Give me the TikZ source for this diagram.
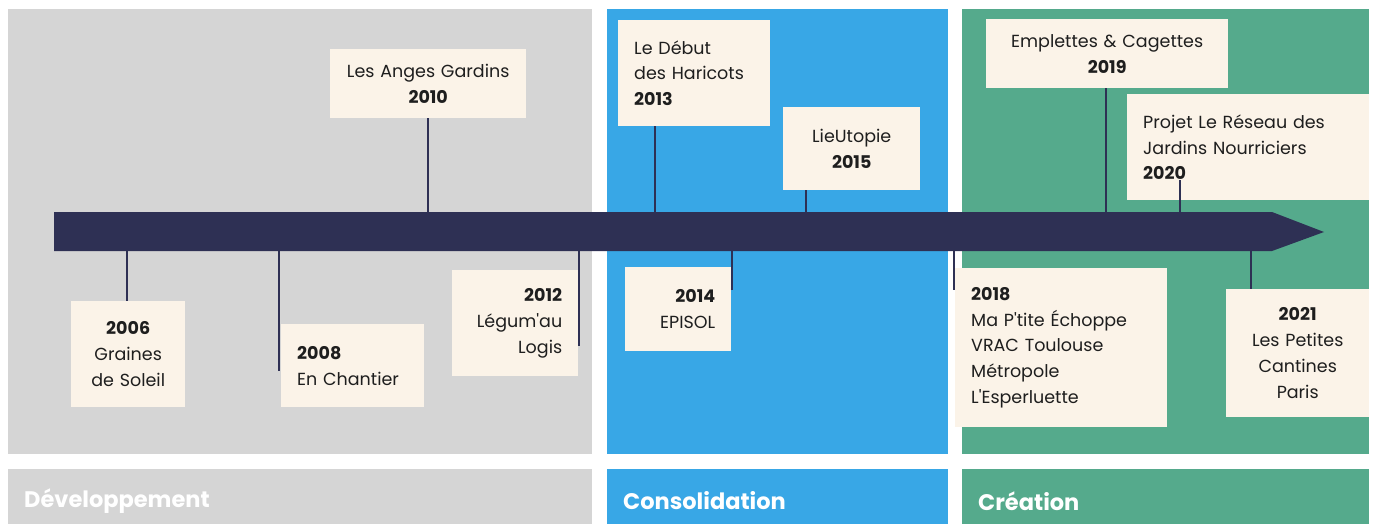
\documentclass[tikz,border=0pt]{standalone}
\usepackage{fontspec}
\setmainfont{Poppins}
\usetikzlibrary{positioning}
\definecolor{darknavy}{HTML}{2E3054}
\definecolor{phasegrey}{HTML}{D5D5D5}
\definecolor{phaseblue}{HTML}{38A7E6}
\definecolor{phasegreen}{HTML}{55AA8C}
\definecolor{cream}{HTML}{FBF3E8}
\definecolor{inktext}{HTML}{1E1E1E}
\newcommand{\yr}[1]{\textbf{#1}}
\newcommand{\apos}{\textquotesingle}

\begin{document}
\begin{tikzpicture}[x=1pt,y=-1pt,
    event/.style={fill=cream, text=inktext, inner xsep=16pt, inner ysep=0pt,
                  anchor=north west, font=\fontsize{17.5}{25.8}\selectfont},
    stem/.style={darknavy, line width=2.6pt},
    phase/.style={anchor=west, inner sep=0pt, text=white, font=\fontsize{22.5}{26}\selectfont\bfseries}]

           \useasboundingbox (0,0) rectangle (1375,524);

           % phases
           \fill [phasegrey] (8,9) rectangle (592,454);
           \fill [phaseblue] (607,9) rectangle (948,454);
           \fill [phasegreen] (962,9) rectangle (1369,454);

           \fill [phasegrey] (8,469) rectangle (592,524);
           \fill [phaseblue] (607,469) rectangle (948,524);
           \fill [phasegreen] (962,469) rectangle (1369,524);

           \node [phase] (dev) at (24,501) {Développement};
           \node [phase] (cons) at (623,501) {Consolidation};
           \node [phase] (crea) at (978,501) {Création};

           % events above the line
           \node [event, text width=164pt, minimum height=69pt, align=center] (e2010) at (330,49)
                 {Les Anges Gardins\\\yr{2010}};
           \node [event, text width=120pt, minimum height=106pt, align=left] (e2013) at (618,20)
                 {Le Début\\des Haricots\\\yr{2013}};
           \node [event, text width=105pt, minimum height=83pt, align=center] (e2015) at (783,107)
                 {LieUtopie\\\yr{2015}};
           \node [event, text width=210pt, minimum height=69pt, align=center] (e2019) at (986,19)
                 {Emplettes \& Cagettes\\\yr{2019}};
           \node [event, text width=210pt, minimum height=106pt, align=left] (e2020) at (1127,94)
                 {Projet Le Réseau des\\Jardins Nourriciers\\\yr{2020}};

           % events below the line
           \node [event, text width=82pt, minimum height=106pt, align=center] (e2006) at (71,301)
                 {\yr{2006}\\Graines\\de Soleil};
           \node [event, text width=111pt, minimum height=83pt, align=left] (e2008) at (281,324)
                 {\yr{2008}\\En Chantier};
           \node [event, text width=94pt, minimum height=106pt, align=right] (e2012) at (452,270)
                 {\yr{2012}\\Légum\apos au\\Logis};
           \node [event, text width=74pt, minimum height=84pt, align=right] (e2014) at (625,267)
                 {\yr{2014}\\EPISOL};
           \node [event, text width=180pt, minimum height=159pt, align=left] (e2018) at (955,268)
                 {\yr{2018}\\Ma P\apos tite Échoppe\\VRAC Toulouse\\Métropole\\L\apos Esperluette};
           \node [event, text width=111pt, minimum height=128pt, align=center] (e2021) at (1226,289)
                 {\yr{2021}\\Les Petites\\Cantines\\Paris};

           % stems
           \coordinate (s2010) at (428,212);
           \coordinate (s2013) at (655,212);
           \coordinate (s2015) at (806,212);
           \coordinate (s2019) at (1106,212);
           \coordinate (s2020) at (1180,212);
           \draw [stem] (s2010) -- (s2010 |- e2010.south);
           \draw [stem] (s2013) -- (s2013 |- e2013.south);
           \draw [stem] (s2015) -- (s2015 |- e2015.south);
           \draw [stem] (s2019) -- (s2019 |- e2019.south);
           \draw [stem] (s2020) -- ++(0,-32);

           \coordinate (s2006) at (127,251);
           \coordinate (s2008) at (279,251);
           \coordinate (s2012) at (579,251);
           \coordinate (s2014) at (732,251);
           \coordinate (s2018) at (954,251);
           \coordinate (s2021) at (1251,251);
           \draw [stem] (s2006) -- (s2006 |- e2006.north);
           \draw [stem] (s2008) -- ++(0,120);
           \draw [stem] (s2012) -- ++(0,95);
           \draw [stem] (s2014) -- ++(0,39);
           \draw [stem] (s2018) -- ++(0,39);
           \draw [stem] (s2021) -- (s2021 |- e2021.north);

           % time line
           \fill [darknavy] (54,212) -- (1272,212) -- (1324,232) -- (1272,251) -- (54,251) -- cycle;

        \end{tikzpicture}
\end{document}
